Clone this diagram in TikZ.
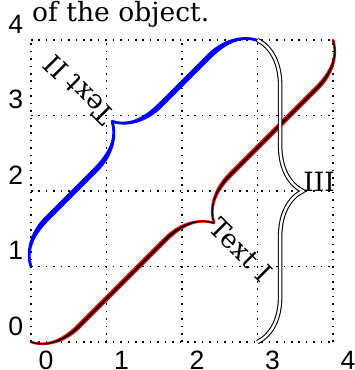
\documentclass[tikz,border=0pt]{standalone}
\usepackage{fontspec}
\setmainfont{DejaVu Serif}
\newfontfamily\axisfont{Liberation Sans}
\usetikzlibrary{decorations.pathreplacing, calligraphy}

\begin{document}
\begin{tikzpicture}[
    axislabel/.style={font=\axisfont, inner sep=0pt},
    bracelabel/.style={inner sep=0pt}]
    \useasboundingbox (-0.41,-0.37) rectangle (4.29,4.53);

    %dotted grid and numbers
    \draw[line width=0.6pt, dash pattern=on 0.6pt off 2.2pt] (0,0) grid (4,4);
    \foreach \i in {0,...,4} {
        \node[axislabel] (x\i) at (\i+0.2,-0.24) {\i};
        \node[axislabel] (y\i) at (-0.2,\i+0.21) {\i};
    }
    \node[inner sep=0pt, anchor=base west] (caption) at (0.01,4.25) {of the object.};

    %end points of the braces
    \coordinate (r0) at (0,0);
    \coordinate (r1) at (4,4);
    \coordinate (b0) at (0,1);
    \coordinate (b1) at (3,4);
    \coordinate (d0) at (3,0);
    \coordinate (d1) at (3,4);

    %braces
    \draw[decorate, decoration={calligraphic brace, amplitude=0.6cm, mirror},
        pen colour=red, line width=1.9pt] (r0) -- (r1);
    \draw[decorate, decoration={calligraphic brace, amplitude=0.6cm, mirror},
        pen colour=black, line width=0.9pt] (r0) -- (r1);
    \draw[decorate, decoration={calligraphic brace, amplitude=0.6cm},
        draw=blue, pen colour=blue, line width=2.1pt] (b0) -- (b1);
    \draw[decorate, decoration={brace, amplitude=0.6cm, mirror},
        double=white, double distance=0.9pt, line width=0.4pt] (d0) -- (d1);

    %labels
    \node[bracelabel, rotate=-45] (t1) at (2.78,1.22) {Text I};
    \node[bracelabel, rotate=135] (t2) at (0.64,3.34) {Text II};
    \node[bracelabel, anchor=base west] (t3) at (3.6,2) {III};
\end{tikzpicture}
\end{document}
